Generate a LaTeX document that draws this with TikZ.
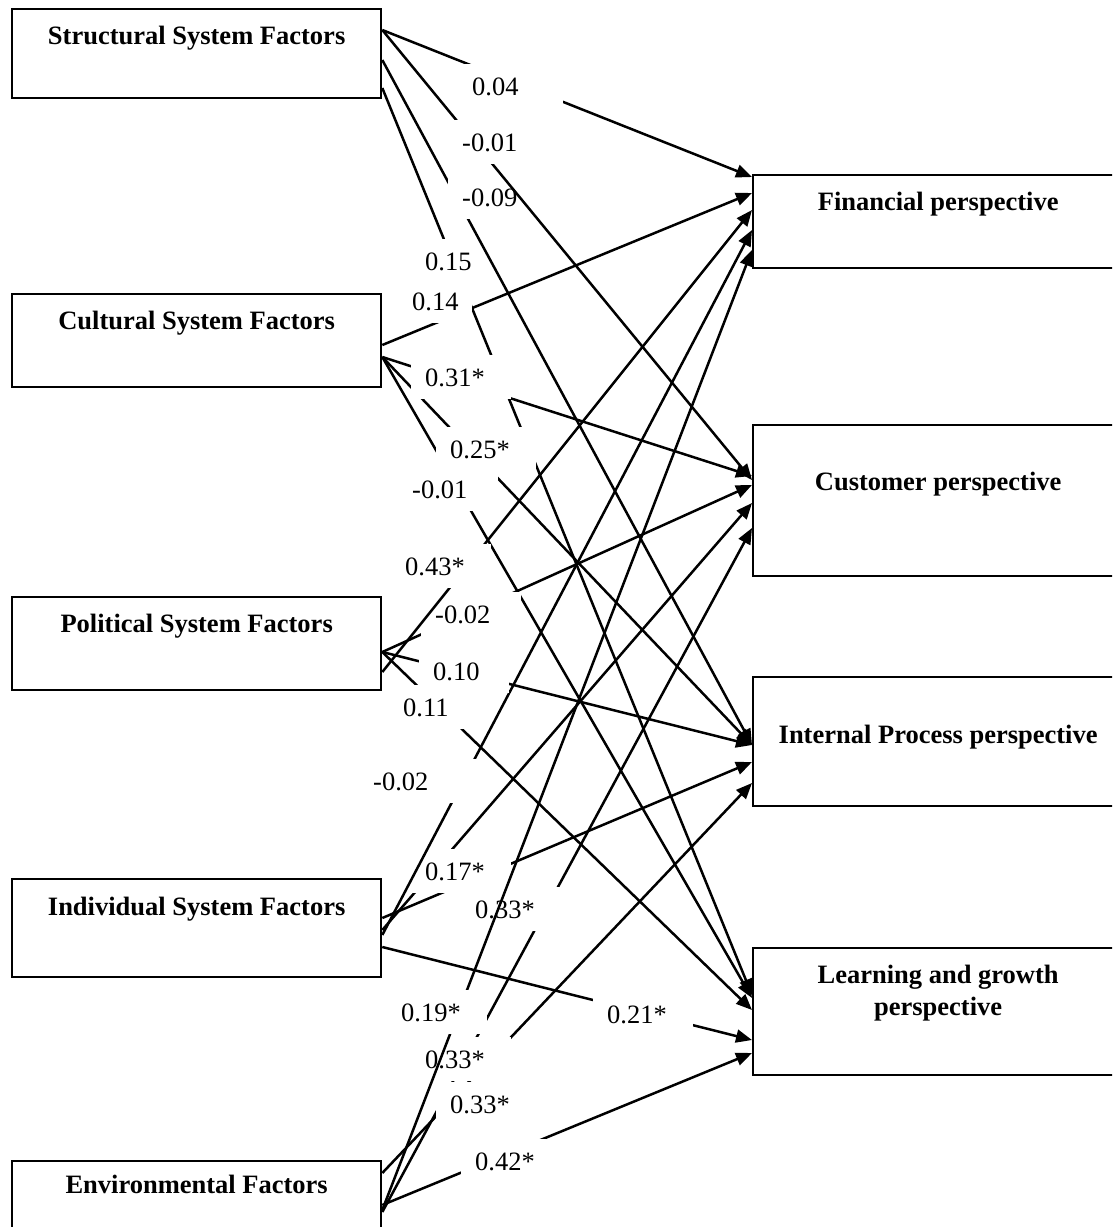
\documentclass[tikz,border=0pt]{standalone}
\usepackage{fontspec}
\setmainfont{Liberation Serif}
\usetikzlibrary{arrows.meta}
\newcommand{\figfont}{\fontsize{26.5}{32}\selectfont}

\begin{document}
\begin{tikzpicture}[x=1pt, y=-1pt,
    factor/.style={draw, line width=2.3pt, anchor=north west, inner sep=0pt, minimum width=369pt},
    persp/.style={factor, minimum width=370pt},
    boxtext/.style={anchor=base, inner sep=0pt, align=center, font={\figfont\bfseries}},
    link/.style={line width=2.5pt, -{Triangle[length=16pt, width=13pt]}},
    coef/.style={fill=white, anchor=base west, inner xsep=14pt, inner ysep=8pt,
        text height=23pt, text depth=5pt, text width=72pt, align=left, font=\figfont}]
    \useasboundingbox (0,0) rectangle (1112,1227);
    \clip (0,0) rectangle (1112,1227);

    % factor boxes on the left
    \node[factor, minimum height=89pt] (struct) at (11,8) {};
    \node[factor, minimum height=93pt] (cult) at (11,293) {};
    \node[factor, minimum height=93pt] (polit) at (11,596) {};
    \node[factor, minimum height=98pt] (indiv) at (11,878) {};
    \node[factor, minimum height=95pt] (envir) at (11,1160) {};

    % perspective boxes on the right
    \node[persp, minimum height=93pt] (fin) at (752,174) {};
    \node[persp, minimum height=151pt] (cust) at (752,424) {};
    \node[persp, minimum height=129pt] (intp) at (752,676) {};
    \node[persp, minimum height=127pt] (learn) at (752,947) {};

    % box titles
    \node[boxtext] (struct-t) at ([yshift=-36pt]struct.north) {Structural System Factors};
    \node[boxtext] (cult-t) at ([yshift=-36pt]cult.north) {Cultural System Factors};
    \node[boxtext] (polit-t) at ([yshift=-36pt]polit.north) {Political System Factors};
    \node[boxtext] (indiv-t) at ([yshift=-37pt]indiv.north) {Individual System Factors};
    \node[boxtext] (envir-t) at ([yshift=-33pt]envir.north) {Environmental Factors};
    \node[boxtext] (fin-t) at ([yshift=-36pt]fin.north) {Financial perspective};
    \node[boxtext] (cust-t) at ([yshift=-66pt]cust.north) {Customer perspective};
    \node[boxtext] (intp-t) at ([yshift=-67pt]intp.north) {Internal Process perspective};
    \node[boxtext] (learn-t) at ([yshift=-68pt]learn.north) {Learning and growth\\perspective};

    % paths, lower layer
    \foreach \src/\sy/\dst/\dy in {struct/30/fin/177, struct/88/learn/995,
        cult/345/fin/193, cult/357/cust/476, cult/357/intp/745, cult/357/learn/998,
        polit/652/cust/485, polit/652/intp/745, polit/652/learn/1010,
        indiv/930/cust/503, indiv/918/intp/762, indiv/947/learn/1040,
        envir/1212/cust/528, envir/1173/intp/783, envir/1205/learn/1053} {
        \draw[link] (\src.east |- 0,\sy) -- (\dst.west |- 0,\dy);
    }

    % coefficients under the upper paths
    \node[coef] (kSL) at (411,270) {0.15};
    \node[coef] (kPC) at (421,623) {-0.02};
    \node[coef] (kIC) at (411,880) {0.17*};
    \node[coef] (kII) at (461,918) {0.33*};
    \node[coef] (kEC) at (411,1068) {0.33*};

    % paths, upper layer
    \foreach \src/\sy/\dst/\dy in {struct/60/intp/745, polit/672/fin/210,
        indiv/935/fin/230, envir/1210/fin/250} {
        \draw[link] (\src.east |- 0,\sy) -- (\dst.west |- 0,\dy);
    }
    \node[coef] (kSI) at (448,206) {-0.09};
    \draw[link] (struct.east |- 0,30) -- (cust.west |- 0,480);

    % remaining coefficients
    \node[coef, text width=77pt] (kSF) at (458,95) {0.04};
    \node[coef] (kSC) at (448,151) {-0.01};
    \node[coef, text width=46pt] (kCF) at (398,310) {0.14};
    \node[coef] (kCC) at (411,386) {0.31*};
    \node[coef] (kCI) at (436,458) {0.25*};
    \node[coef] (kCL) at (398,498) {-0.01};
    \node[coef] (kPF) at (391,575) {0.43*};
    \node[coef, text width=62pt] (kPI) at (419,680) {0.10};
    \node[coef] (kPL) at (389,716) {0.11};
    \node[coef, text width=93pt] (kIF) at (359,790) {-0.02};
    \node[coef] (kIL) at (593,1023) {0.21*};
    \node[coef] (kEF) at (387,1021) {0.19*};
    \node[coef] (kEI) at (436,1113) {0.33*};
    \node[coef] (kEL) at (461,1170) {0.42*};
\end{tikzpicture}
\end{document}
